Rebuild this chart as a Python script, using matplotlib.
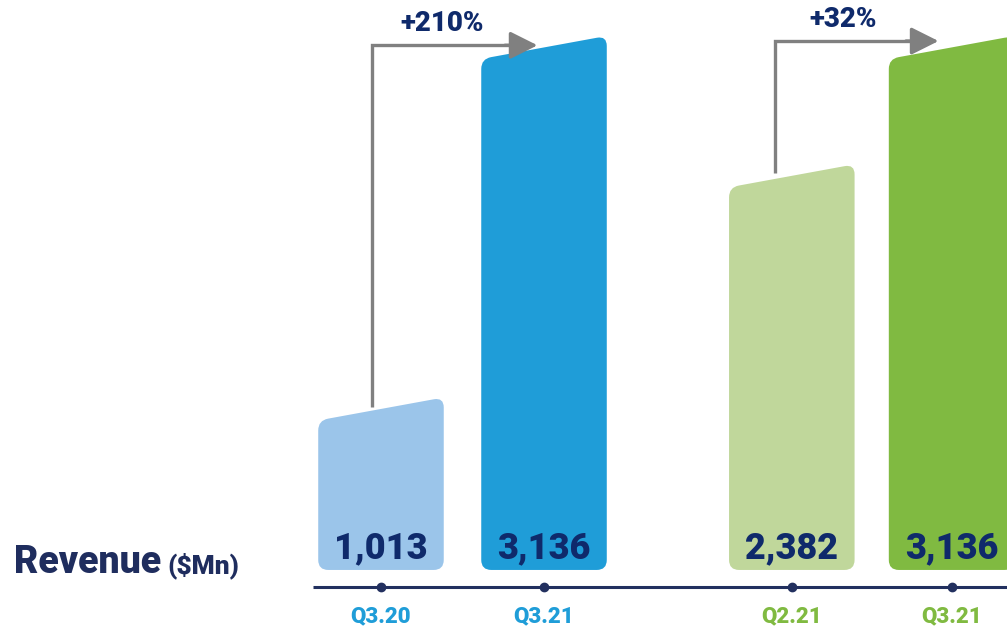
import matplotlib
matplotlib.use("Agg")
import matplotlib.pyplot as plt
from matplotlib.path import Path
from matplotlib.patches import PathPatch
import numpy as np

# ---- data ----
categories = ["Q3.20", "Q3.21", "Q2.21", "Q3.21"]
values = [1013, 3136, 2382, 3136]
value_labels = ["1,013", "3,136", "2,382", "3,136"]
growth_labels = ["+210%", "+32%"]
growth_pairs = [(0, 1), (2, 3)]

# ---- style ----
positions = [0.0, 1.0, 2.52, 3.5]
bar_colors = ["#9BC5EA", "#1F9DD8", "#C0D79B", "#80BA41"]
tick_colors = ["#1F9DD8", "#1F9DD8", "#80BA41", "#80BA41"]
navy = "#0F2A6B"
axis_navy = "#22305F"
gray = "#808080"
bar_w = 0.77
slant_px = 23
radius_px = 10
FONT = "Roboto"

fig = plt.figure(figsize=(10.07, 6.27), dpi=100)
ax = fig.add_axes([0, 0, 1, 1])
ax.set_xlim(-2.337, 3.84)
ax.set_ylim(-335, 3347)
ax.axis("off")

# pixel scale of data units
o = ax.transData.transform((0, 0))
sx = ax.transData.transform((1, 0))[0] - o[0]
sy = ax.transData.transform((0, 1))[1] - o[1]


def rounded_path(pts, r):
    pts = np.asarray(pts, float)
    n = len(pts)
    verts, codes = [], []
    for i in range(n):
        v = pts[i]
        p = pts[i - 1]
        q = pts[(i + 1) % n]
        up = (p - v) / np.linalg.norm(p - v)
        uq = (q - v) / np.linalg.norm(q - v)
        pin = v + r * up
        pout = v + r * uq
        if i == 0:
            verts.append(pin); codes.append(Path.MOVETO)
        else:
            verts.append(pin); codes.append(Path.LINETO)
        verts += [v, pout]; codes += [Path.CURVE3, Path.CURVE3]
    verts.append(verts[0]); codes.append(Path.CLOSEPOLY)
    verts = np.array(verts)
    verts[:, 0] /= sx
    verts[:, 1] /= sy
    return Path(verts, codes)


slant = slant_px / sy
for x, v, c in zip(positions, values, bar_colors):
    x0, x1 = x - bar_w / 2, x + bar_w / 2
    pts = [(x0 * sx, 0), (x1 * sx, 0), (x1 * sx, v * sy), (x0 * sx, (v - slant) * sy)]
    ax.add_patch(PathPatch(rounded_path(pts, radius_px), facecolor=c, edgecolor="none", zorder=2))

# value labels inside bars
for x, lab in zip(positions, value_labels):
    ax.text(x, 22, lab, ha="center", va="bottom", fontsize=26, fontweight="black",
            family=FONT, color=navy, zorder=3)

# baseline axis with dots
axis_y = -100
ax.plot([positions[0] - 0.42, 3.84], [axis_y, axis_y], color=axis_navy, lw=2.2, zorder=2,
        solid_capstyle="butt")
ax.scatter(positions, [axis_y] * len(positions), s=36, color=axis_navy, zorder=3)
for x, lab, c in zip(positions, categories, tick_colors):
    ax.text(x, axis_y - 18 / sy, lab, ha="center", va="top", fontsize=16,
            fontweight="black", family=FONT, color=c)

# growth arrows
arrow_offsets = [55, 30]
for (i, j), lab, off in zip(growth_pairs, growth_labels, arrow_offsets):
    xs = positions[i] - 0.055 - (0.05 if i == 2 else 0)
    ys = values[i] - slant * (xs - (positions[i] - bar_w / 2)) / bar_w
    ya = values[j] - off
    xt = positions[j] - 0.04 - (0.04 if i == 2 else 0)
    ax.plot([xs, xs, xt - 0.1], [ys, ya, ya], color=gray, lw=2.4, zorder=4,
            solid_joinstyle="miter", solid_capstyle="butt")
    ax.annotate("", xy=(xt, ya), xytext=(xt - 0.2, ya),
                arrowprops=dict(arrowstyle="-|>", mutation_scale=42, color=gray, lw=2.4,
                                shrinkA=0, shrinkB=0), zorder=4)
    ax.annotate(lab, xy=((xs + xt) / 2 - 0.08, ya), xytext=(0, 6), textcoords="offset points",
                ha="center", va="bottom", fontsize=20, fontweight="black", family=FONT,
                color=navy)

# Revenue label
fig.text(14 / 1007, 54 / 627, "Revenue", fontsize=27, fontweight="black", family=FONT,
         color="#1F2D5E", va="baseline", ha="left")
fig.text(167 / 1007, 54 / 627, "($Mn)", fontsize=19, fontweight="black", family=FONT,
         color="#1F2D5E", va="baseline", ha="left")

fig.savefig("out.png", dpi=100)
